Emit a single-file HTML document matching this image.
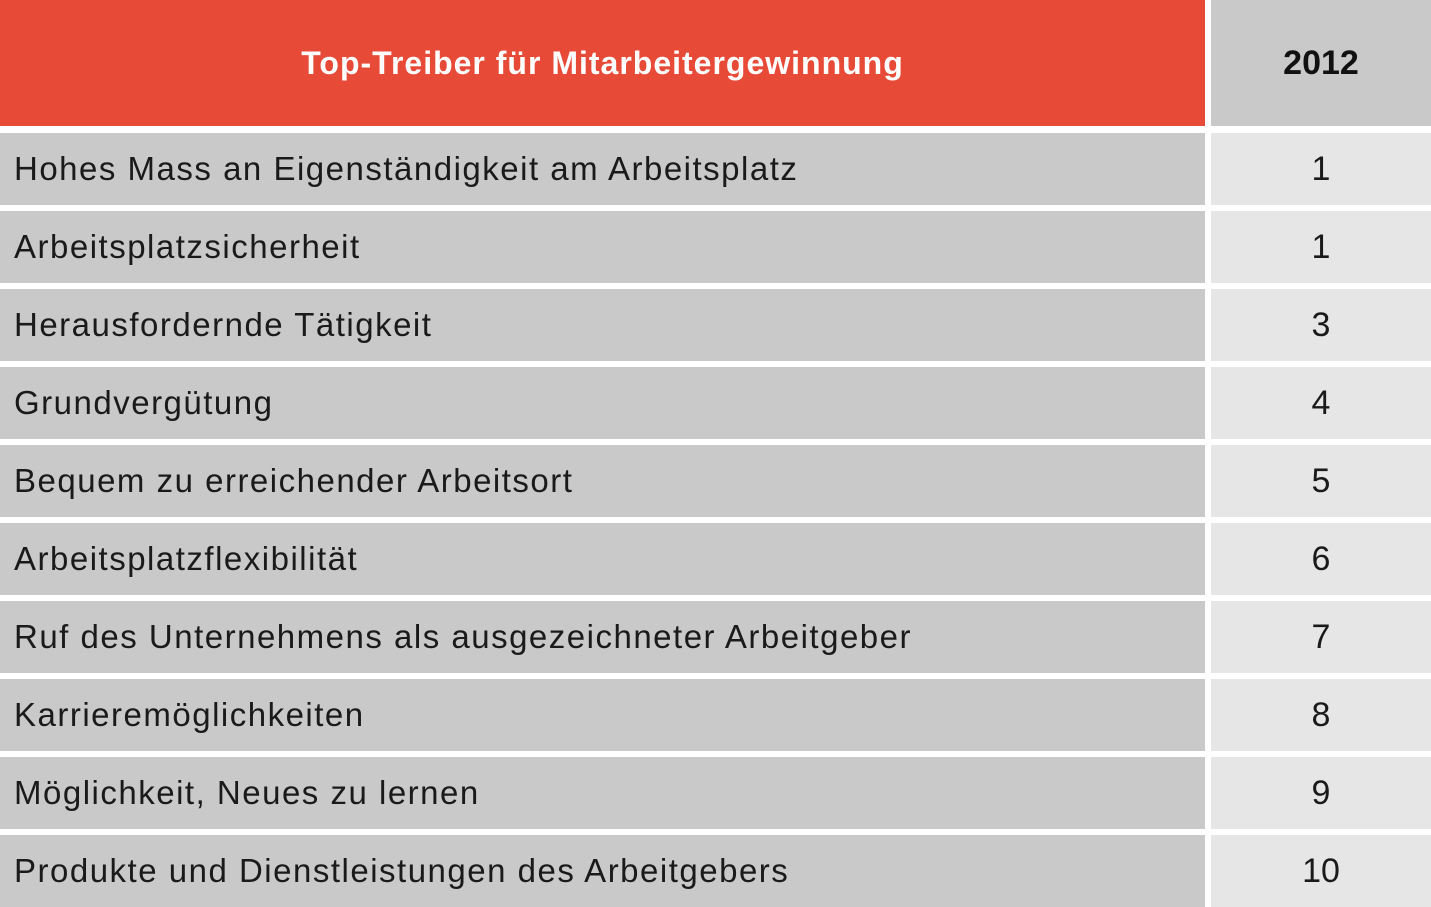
<!DOCTYPE html>
<html><head><meta charset="utf-8"><style>
body{margin:0;width:1431px;height:906px;background:#fff;position:relative;overflow:hidden;font-family:"Liberation Sans",sans-serif}
div.c{position:absolute;display:flex;align-items:center}
.l{left:0;width:1205px;background:#c8c9c8;color:#1a1a1a;font-size:33px;letter-spacing:1.5px;padding-left:14px;box-sizing:border-box}
.r{left:1211px;width:220px;background:#e6e6e6;color:#1a1a1a;font-size:34px;justify-content:center}
</style></head><body>
<div class="c" style="left:0;top:0;width:1205px;height:126px;background:#e84a38;color:#fff;font-weight:bold;font-size:32px;letter-spacing:1px;justify-content:center">Top-Treiber für Mitarbeitergewinnung</div>
<div class="c" style="left:1211px;top:0;width:220px;height:126px;background:#c8c9c8;color:#111;font-weight:bold;font-size:34px;justify-content:center">2012</div>

<div class="c l" style="top:133px;height:72px">Hohes Mass an Eigenständigkeit am Arbeitsplatz</div><div class="c r" style="top:133px;height:72px">1</div>
<div class="c l" style="top:211px;height:72px">Arbeitsplatzsicherheit</div><div class="c r" style="top:211px;height:72px">1</div>
<div class="c l" style="top:289px;height:72px">Herausfordernde Tätigkeit</div><div class="c r" style="top:289px;height:72px">3</div>
<div class="c l" style="top:367px;height:72px">Grundvergütung</div><div class="c r" style="top:367px;height:72px">4</div>
<div class="c l" style="top:445px;height:72px">Bequem zu erreichender Arbeitsort</div><div class="c r" style="top:445px;height:72px">5</div>
<div class="c l" style="top:523px;height:72px">Arbeitsplatzflexibilität</div><div class="c r" style="top:523px;height:72px">6</div>
<div class="c l" style="top:601px;height:72px">Ruf des Unternehmens als ausgezeichneter Arbeitgeber</div><div class="c r" style="top:601px;height:72px">7</div>
<div class="c l" style="top:679px;height:72px">Karrieremöglichkeiten</div><div class="c r" style="top:679px;height:72px">8</div>
<div class="c l" style="top:757px;height:72px">Möglichkeit, Neues zu lernen</div><div class="c r" style="top:757px;height:72px">9</div>
<div class="c l" style="top:835px;height:72px">Produkte und Dienstleistungen des Arbeitgebers</div><div class="c r" style="top:835px;height:72px">10</div>
</body></html>
